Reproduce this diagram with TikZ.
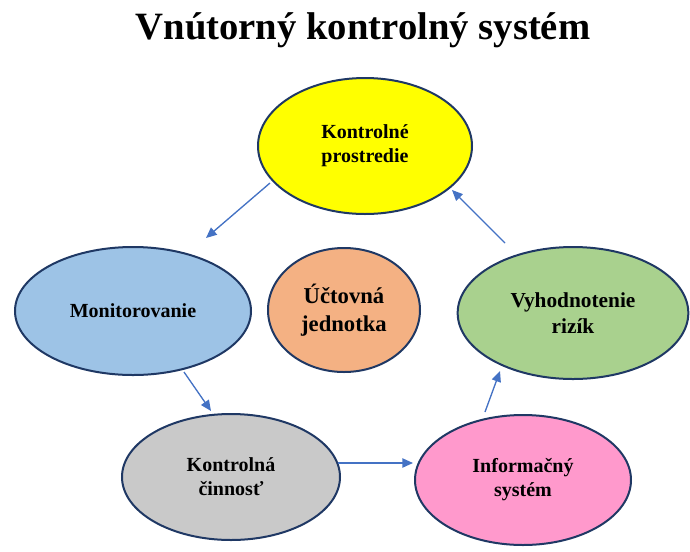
\documentclass[tikz,border=0pt]{standalone}
\usepackage{fontspec}
\setmainfont{Liberation Serif}
\usetikzlibrary{arrows.meta,shapes.geometric}
\definecolor{obrys}{HTML}{1F3864}
\definecolor{sipfarba}{HTML}{4472C4}
\definecolor{zlta}{HTML}{FFFF00}
\definecolor{modra}{HTML}{9DC3E6}
\definecolor{oranz}{HTML}{F4B183}
\definecolor{zelena}{HTML}{A9D18E}
\definecolor{siva}{HTML}{C9C9C9}
\definecolor{ruzova}{HTML}{FF99CC}
\tikzset{
    >={Triangle[length=8pt,width=7pt]},
    kruh/.style={
           ellipse,
           draw=obrys, line width=1.5pt,
           inner sep=0pt,
           align=center,
           font=\fontsize{15pt}{18pt}\selectfont\bfseries},
    sipka/.style={
           ->,
           draw=sipfarba, fill=sipfarba,
           line width=1pt}
}

\begin{document}
\begin{tikzpicture}[x=0.75pt,y=-0.75pt]
          \useasboundingbox (0,0) rectangle (690,551);
          \node[font=\fontsize{29pt}{32pt}\selectfont\bfseries](nadpis) at (363,30) {Vnútorný kontrolný systém};
          \node[kruh, fill=zlta, minimum width=160.5pt, minimum height=102pt](prostredie) at (365,146) {Kontrolné\\prostredie};
          \node[kruh, fill=modra, minimum width=177pt, minimum height=96pt](monit) at (133,311) {Monitorovanie};
          \node[kruh, fill=oranz, minimum width=114pt, minimum height=93pt, font=\fontsize{17pt}{21pt}\selectfont\bfseries](jednotka) at (344,310) {Účtovná\\jednotka};
          \node[kruh, fill=zelena, minimum width=173pt, minimum height=99pt, font=\fontsize{16pt}{19pt}\selectfont\bfseries](rizika) at (573,313) {Vyhodnotenie\\rizík};
          \node[kruh, fill=siva, minimum width=163.5pt, minimum height=94.5pt](cinnost) at (231,477) {Kontrolná\\činnosť};
          \node[kruh, fill=ruzova, minimum width=162pt, minimum height=97.5pt](infosys) at (523,480) {Informačný\\systém};
          \coordinate (a1) at (270,183);
          \coordinate (a2) at (206,238);
          \coordinate (b1) at (184,372);
          \coordinate (b2) at (211,411);
          \coordinate (c1) at (338,463);
          \coordinate (c2) at (413,463);
          \coordinate (d1) at (485,412);
          \coordinate (d2) at (500,371);
          \coordinate (e1) at (505,243);
          \coordinate (e2) at (452,190);
          \draw[sipka] (a1) -- (a2);
          \draw[sipka] (b1) -- (b2);
          \draw[sipka] (c1) -- (c2);
          \draw[sipka] (d1) -- (d2);
          \draw[sipka] (e1) -- (e2);
\end{tikzpicture}
\end{document}
